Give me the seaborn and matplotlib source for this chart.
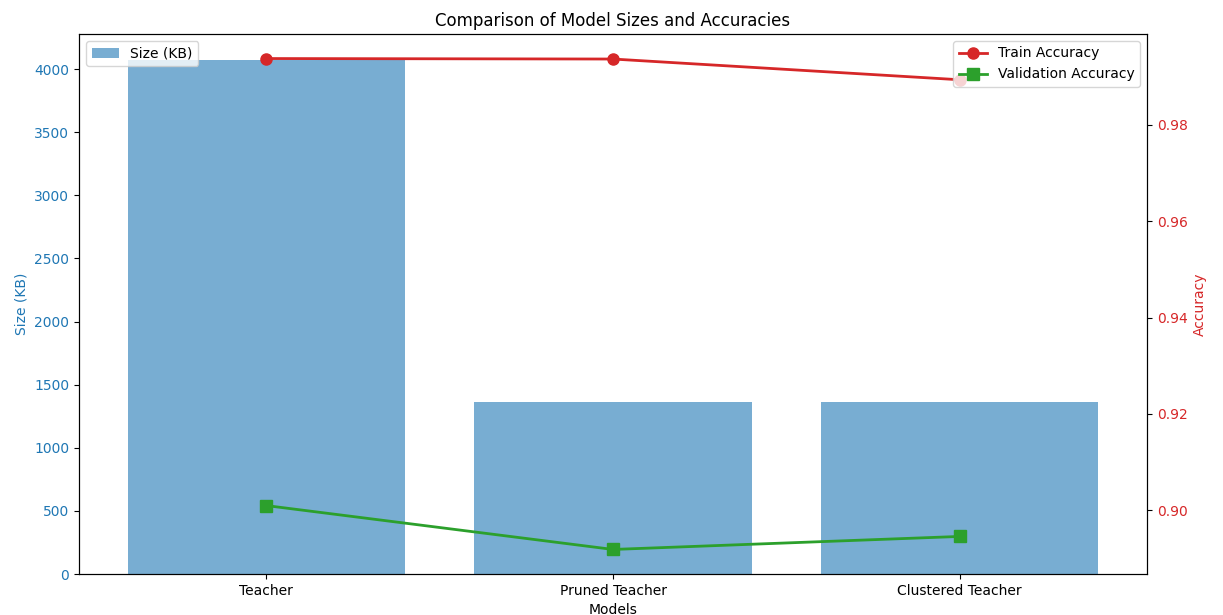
import matplotlib
matplotlib.use("Agg")
import matplotlib.pyplot as plt
import seaborn as sns
import numpy as np
import pandas as pd

models = ["Teacher", "Pruned Teacher", "Clustered Teacher"]
sizes_kb = [4075, 1366, 1366]
train_acc = [0.9937, 0.9936, 0.9893]
val_acc = [0.9010, 0.8919, 0.8946]

df = pd.DataFrame({"Model": models, "Size": sizes_kb})

fig = plt.figure(figsize=(12.23, 6.15), dpi=100)
ax1 = fig.add_axes([79 / 1223, 1 - 574 / 615, (1147 - 79) / 1223, (574 - 34) / 615])

sns.barplot(data=df, x="Model", y="Size", color="tab:blue", alpha=0.6,
            width=0.8, saturation=1, label="Size (KB)", ax=ax1)
ax1.set_xlim(-0.54, 2.54)
ax1.set_ylim(0, max(sizes_kb) * 1.05)
ax1.set_xlabel("Models")
ax1.set_ylabel("Size (KB)", color="tab:blue")
ax1.tick_params(axis="y", labelcolor="tab:blue")
ax1.legend(loc="upper left")

ax2 = ax1.twinx()
pos = np.arange(len(models))
ax2.plot(pos, train_acc, color="tab:red", marker="o", linewidth=2, markersize=8,
         label="Train Accuracy")
ax2.plot(pos, val_acc, color="tab:green", marker="s", linewidth=2, markersize=8,
         label="Validation Accuracy")
ax2.set_ylabel("Accuracy", color="tab:red")
ax2.tick_params(axis="y", labelcolor="tab:red")
ax2.legend(loc="upper right")
ax2.set_xlim(-0.54, 2.54)

ax1.set_title("Comparison of Model Sizes and Accuracies")

fig.savefig("out.png", dpi=100)
